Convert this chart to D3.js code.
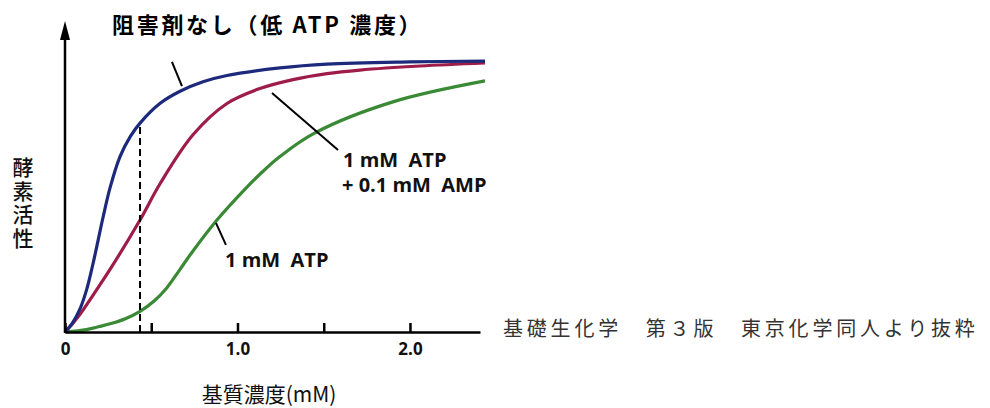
<!DOCTYPE html>
<html><head><meta charset="utf-8">
<script src="https://cdn.jsdelivr.net/npm/d3@7"></script>
<style>
html,body{margin:0;padding:0;background:#fff;}
svg{display:block;}
text{white-space:pre;}
</style></head>
<body>
<svg id="chart" width="990" height="408"></svg>
<script>
// ---- data (substrate mM, relative activity %) ----
const blueX  = [0, 0.04, 0.087, 0.125, 0.162, 0.22, 0.261, 0.319, 0.38, 0.435, 0.55, 0.667, 0.8, 0.939, 1.246, 1.519, 2.0, 2.435];
const blueY  = [0, 3, 8.5, 15.5, 25, 42, 53, 64.5, 72, 76.8, 84, 88.5, 92, 94.3, 97.1, 98.5, 99.3, 99.6];
const redX   = [0, 0.04, 0.087, 0.162, 0.261, 0.435, 0.551, 0.742, 0.939, 1.130, 1.322, 1.519, 1.710, 2.058, 2.435];
const redY   = [0, 2.8, 6.5, 13.5, 23, 41.2, 54.5, 72.5, 84, 89.5, 92.8, 95, 96.3, 97.8, 98.9];
const greenX = [0, 0.124, 0.2, 0.261, 0.35, 0.435, 0.52, 0.591, 0.66, 0.742, 0.881, 1.055, 1.130, 1.246, 1.449, 1.901, 2.435];
const greenY = [0, 0.9, 2.0, 3.0, 4.9, 7.6, 11.6, 16.3, 22.4, 29.8, 41.2, 53.3, 58.0, 64.5, 73.2, 84.6, 92.3];
const tickValues = [0, 0.5, 1, 1.5, 2];
const tickLabels = ["0", "", "1.0", "", "2.0"];
const dashX = 0.435, dashY = 76.8;
const title = "阻害剤なし（低 ATP 濃度）";
const xTitle = "基質濃度(mM)";
const yTitle = "酵素活性";
const caption = "基礎生化学　第３版　東京化学同人より抜粋";
const labelAMP = ["1 mM  ATP", "+ 0.1 mM  AMP"];
const labelATP = "1 mM  ATP";
// pointer lines [x1,y1,x2,y2] in data units
const ptrBlue  = [0.620, 99.3, 0.678, 90.4];
const ptrRed   = [1.200, 87.9, 1.583, 66.9];
const ptrGreen = [0.875, 40.1, 0.933, 32.0];

const svg = d3.select("#chart");
const x = d3.scaleLinear().domain([0, 2.406]).range([65, 480]);
const y = d3.scaleLinear().domain([0, 100]).range([332, 60]);
const yTop = 114;

const latin = "'Open Sans', 'Noto Sans', sans-serif";
const cjk = "'Noto Sans CJK JP', 'Noto Sans', sans-serif";

// curves
const line = d3.line().x(d => x(d[0])).y(d => y(d[1])).curve(d3.curveCatmullRom.alpha(0.5));
const series = [
  {xs: greenX, ys: greenY, c: "#3a8a35"},
  {xs: redX, ys: redY, c: "#9e1c4a"},
  {xs: blueX, ys: blueY, c: "#1d2a7c"}
];
svg.selectAll("path.curve").data(series).join("path")
  .attr("class", "curve")
  .attr("d", s => line(s.xs.map((v, i) => [v, s.ys[i]])))
  .attr("fill", "none").attr("stroke", s => s.c).attr("stroke-width", 3.2);

// dashed line
svg.append("line")
  .attr("x1", x(dashX)).attr("x2", x(dashX))
  .attr("y1", y(0)).attr("y2", y(dashY))
  .attr("stroke", "#000").attr("stroke-width", 2).attr("stroke-dasharray", "7,4");

// x axis
const xAxis = d3.axisBottom(x).tickValues(tickValues)
  .tickFormat((d, i) => tickLabels[i]).tickSize(-9).tickSizeOuter(0).tickPadding(11);
const gx = svg.append("g").attr("transform", `translate(0,${y(0)})`).call(xAxis);
gx.select(".domain").attr("stroke", "#000").attr("stroke-width", 2.5);
gx.selectAll(".tick line").attr("stroke", "#000").attr("stroke-width", 2.5);
gx.selectAll(".tick text").attr("font-family", latin).attr("font-weight", 700)
  .attr("font-size", 17).attr("fill", "#111");

// y axis with arrow
svg.append("line").attr("x1", x(0)).attr("x2", x(0))
  .attr("y1", y(0) + 1).attr("y2", y(yTop) + 14)
  .attr("stroke", "#000").attr("stroke-width", 2.5);
svg.append("path")
  .attr("d", `M${x(0)},${y(yTop) - 1} L${x(0) - 5},${y(yTop) + 18} L${x(0) + 5},${y(yTop) + 18} Z`)
  .attr("fill", "#000");

// pointer lines
[ptrBlue, ptrRed, ptrGreen].forEach(p => {
  svg.append("line").attr("x1", x(p[0])).attr("y1", y(p[1]))
    .attr("x2", x(p[2])).attr("y2", y(p[3]))
    .attr("stroke", "#000").attr("stroke-width", 2);
});

// title
svg.append("text").attr("x", 112).attr("y", 33).text(title)
  .attr("font-family", cjk).attr("font-weight", 700).attr("font-size", 22)
  .attr("letter-spacing", 2.7).attr("fill", "#000");

// annotations
svg.append("text").attr("x", 343).attr("y", 167).text(labelAMP[0])
  .attr("font-family", latin).attr("font-weight", 700).attr("font-size", 20).attr("fill", "#111");
svg.append("text").attr("x", 342).attr("y", 192).text(labelAMP[1])
  .attr("font-family", latin).attr("font-weight", 700).attr("font-size", 20).attr("fill", "#111");
svg.append("text").attr("x", 225).attr("y", 267).text(labelATP)
  .attr("font-family", latin).attr("font-weight", 700).attr("font-size", 20).attr("fill", "#111");

// axis titles
svg.append("text").attr("x", 269).attr("y", 402).attr("text-anchor", "middle").text(xTitle)
  .attr("font-family", cjk).attr("font-size", 21).attr("fill", "#111");
svg.append("text").attr("x", 23).attr("y", 157).text(yTitle)
  .style("writing-mode", "vertical-rl").style("text-orientation", "upright")
  .attr("letter-spacing", 2.5)
  .attr("font-family", cjk).attr("font-size", 21).attr("font-weight", 500).attr("fill", "#111");

// caption
svg.append("text").attr("x", 503).attr("y", 336).text(caption)
  .attr("font-family", cjk).attr("font-size", 20).attr("letter-spacing", 3.8)
  .attr("font-weight", 400).attr("fill", "#333");
</script>
</body></html>
